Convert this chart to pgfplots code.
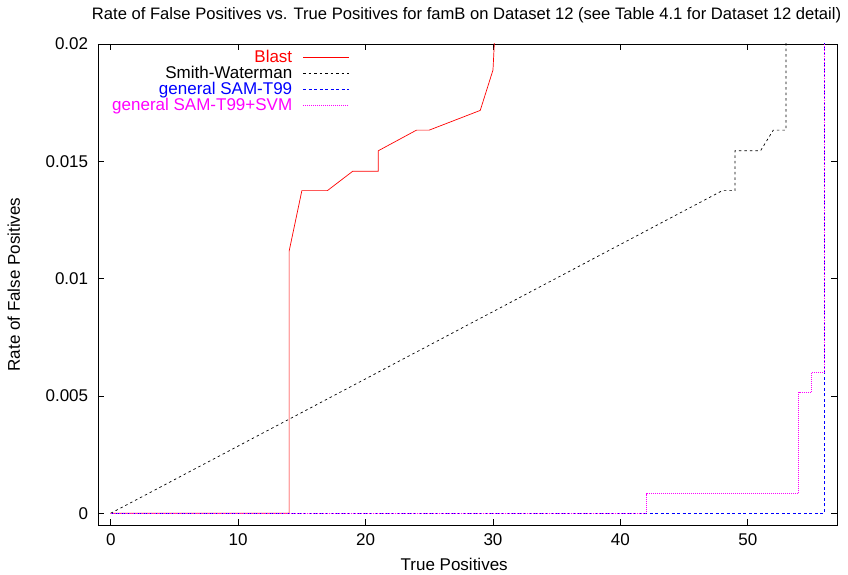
\documentclass[border=0pt]{standalone}
\usepackage{fontspec}
\setmainfont{Liberation Sans}
\usepackage{pgfplots}
\pgfplotsset{compat=1.18}
\definecolor{gpmag}{RGB}{255,0,255}
\definecolor{gpblue}{RGB}{0,0,255}
\definecolor{gpred}{RGB}{255,0,0}
\begin{document}
\fontsize{17}{19}\selectfont
\begin{tikzpicture}
\path[use as bounding box] (-98pt,-49pt) rectangle (750pt,525pt);
\begin{axis}[
  at={(0,0)}, anchor=south west,
  scale only axis, width=739pt, height=481pt,
  xmin=-1, xmax=57, ymin=-0.0005, ymax=0.02,
  xtick={0,10,20,30,40,50},
  ytick={0,0.005,0.01,0.015,0.02},
  yticklabels={0,0.005,0.01,0.015,0.02},
  scaled y ticks=false,
  /pgf/number format/assume math mode=true,
  tick label style={font=\fontsize{17}{19}\selectfont},
  label style={font=\fontsize{17}{19}\selectfont},
  major tick length=6pt,
  tick style={black, line width=0.8pt},
  axis line style={line width=0.8pt},
  xlabel={True Positives},
  ylabel={Rate of False Positives},
  xlabel style={at={(rel axis cs:0.482,0)}, anchor=north, yshift=-27pt},
  ylabel style={at={(rel axis cs:0,0.5)}, anchor=south, yshift=72pt},
  yticklabel style={xshift=-4pt},
  xticklabel style={yshift=-3pt},
  title={Rate of False Positives vs. True Positives for famB on Dataset 12 (see Table 4.1 for Dataset 12 detail)},
  title style={at={(rel axis cs:0.4987,1)}, anchor=base, yshift=18pt, inner sep=0pt, font=\fontsize{16.6}{18}\selectfont},
  legend style={draw=none, fill=none, at={(rel axis cs:0.3407,0.9875)}, anchor=north east,
    font=\fontsize{17}{19}\selectfont, legend cell align=right, row sep=1pt, inner sep=0pt,
    nodes={inner sep=0pt, text height=12pt, text depth=3pt}},
  legend plot pos=right,
  legend image code/.code={\path[draw=none, fill=none] (0pt,-2pt) -- (0pt,2pt); \draw[#1] (11pt,0pt) -- (57pt,0pt);},
  every axis plot/.append style={line width=0.7pt},
]
\addplot[gpred, solid] coordinates {
(0,0) (14,0) (14,0.01117) (15,0.01375) (17,0.01375) (19,0.01458) (21,0.01458)
(21,0.01545) (24,0.01633) (25,0.01633) (29,0.01717) (30,0.01889) (30.15,0.0205)};
\addlegendentry{\textcolor{gpred}{Blast}}
\addplot[black, dash pattern=on 2.5pt off 3pt] coordinates {
(0,0) (48,0.01375) (49,0.01375) (49,0.01545) (51,0.01545) (52,0.01633) (53,0.01633) (53,0.0205)};
\addlegendentry{\textcolor{black}{Smith-Waterman}}
\addplot[gpblue, dash pattern=on 3pt off 2.5pt] coordinates {
(0,0) (56,0) (56,0.0205)};
\addlegendentry{\textcolor{gpblue}{general SAM-T99}}
\addplot[gpmag, dash pattern=on 1pt off 1pt] coordinates {
(0,0) (42,0) (42,0.00084) (54,0.00084) (54,0.00515) (55,0.00515) (55,0.006) (56,0.006) (56,0.0205)};
\addlegendentry{\textcolor{gpmag}{general SAM-T99+SVM}}
\end{axis}
\end{tikzpicture}
\end{document}
